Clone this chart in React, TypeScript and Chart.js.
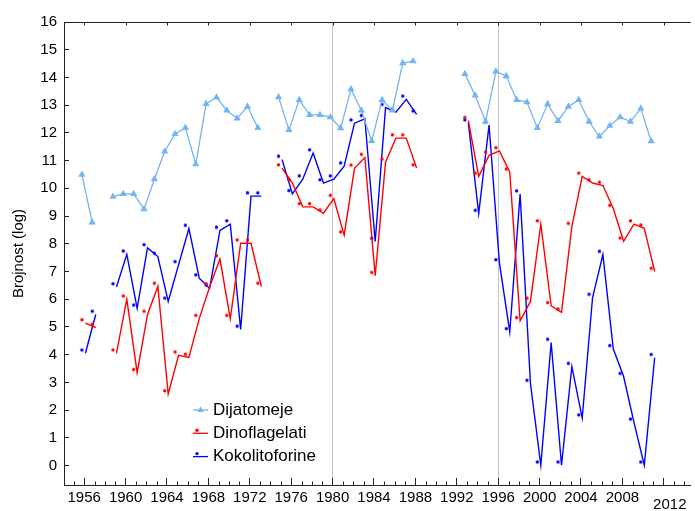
import React, { useEffect, useRef } from 'react';
import { Chart, registerables } from 'chart.js';

Chart.register(...registerables);

const YEARS = [
  1956, 1957, 1958, 1959, 1960, 1961, 1962, 1963, 1964, 1965, 1966, 1967, 1968, 1969,
  1970, 1971, 1972, 1973, 1974, 1975, 1976, 1977, 1978, 1979, 1980, 1981, 1982, 1983,
  1984, 1985, 1986, 1987, 1988, 1989, 1990, 1991, 1992, 1993, 1994, 1995, 1996, 1997,
  1998, 1999, 2000, 2001, 2002, 2003, 2004, 2005, 2006, 2007, 2008, 2009, 2010, 2011,
];

const DIJATOMEJE = [
  10.49, 8.77, null, 9.7, 9.8, 9.8, 9.25, 10.33, 11.33, 11.96, 12.19, 10.87, 13.05, 13.28,
  12.81, 12.52, 12.95, 12.18, null, 13.29, 12.11, 13.19, 12.65, 12.65, 12.57, 12.17, 13.58, 12.81,
  11.71, 13.19, 12.81, 14.52, 14.59, null, null, null, null, 14.13, 13.35, 12.41, 14.22, 14.05,
  13.19, 13.11, 12.18, 13.04, 12.43, 12.95, 13.19, 12.41, 11.87, 12.26, 12.57, 12.41, 12.88, 11.7,
];

const DINOFLAGELATI = [
  5.26, 5.1, null, 4.17, 6.12, 3.47, 5.57, 6.58, 2.7, 4.1, 4.02, 5.42, 6.56, 7.57,
  5.42, 8.14, 8.14, 6.58, null, 10.85, 10.31, 9.45, 9.45, 9.22, 9.75, 8.43, 10.84, 11.23,
  6.97, 11.06, 11.93, 11.93, 10.85, null, null, null, null, 12.56, 10.55, 11.31, 11.47, 10.7,
  5.34, 6.04, 8.83, 5.88, 5.65, 8.74, 10.55, 10.31, 10.22, 9.39, 8.21, 8.83, 8.68, 7.12,
];

const KOKOLITOFORINE = [
  4.17, 5.57, null, 6.56, 7.74, 5.79, 7.97, 7.66, 6.04, 7.36, 8.67, 6.88, 6.51, 8.6,
  8.83, 5.03, 9.84, 9.84, null, 11.16, 9.92, 10.45, 11.39, 10.31, 10.45, 10.92, 12.47, 12.63,
  8.2, 13.03, 12.87, 13.33, 12.79, null, null, null, null, 12.47, 9.21, 12.4, 7.43, 4.94,
  9.91, 3.08, 0.13, 4.56, 0.13, 3.69, 1.83, 6.18, 7.73, 4.33, 3.33, 1.68, 0.13, 4.01,
];

const SERIES_NAMES = ['Dijatomeje', 'Dinoflagelati', 'Kokolitoforine'];
const SERIES_COLORS = ['#74B4F2', '#FF0000', '#0000FF'];

const X_TICK_LABELS = [1956, 1960, 1964, 1968, 1972, 1976, 1980, 1984, 1988, 1992, 1996, 2000, 2004, 2008, 2012];
const X_REF_LINES = [1980, 1996];
const Y_TICKS = [0, 1, 2, 3, 4, 5, 6, 7, 8, 9, 10, 11, 12, 13, 14, 15, 16];
const Y_TITLE = 'Brojnost (log)';

// styling constants
const TICK_OFFSET = 0.22;
const LINE_SHIFT_X = 3.5;
const LINE_SHIFT_Y = 3.3;
const FONT = "'Liberation Sans', Arial, sans-serif";
const AXIS_COLOR = '#222';

function dotImage(color: string) {
  const c = document.createElement('canvas');
  c.width = 16;
  c.height = 16;
  const g = c.getContext('2d')!;
  g.fillStyle = color;
  g.beginPath();
  g.arc(8 - LINE_SHIFT_X, 8 - LINE_SHIFT_Y, 1.7, 0, Math.PI * 2);
  g.fill();
  return c;
}

const shiftPlugin = {
  id: 'shiftLines',
  beforeDatasetDraw(chart: any, args: any) {
    if (args.index > 0) {
      chart.ctx.save();
      chart.ctx.translate(LINE_SHIFT_X, LINE_SHIFT_Y);
    }
  },
  afterDatasetDraw(chart: any, args: any) {
    if (args.index > 0) chart.ctx.restore();
  },
};

const extrasPlugin = {
  id: 'extras',
  afterDraw(chart: any) {
    const { ctx, chartArea } = chart;
    const xs = chart.scales.x;
    const { left, right, top, bottom } = chartArea;
    ctx.save();
    ctx.strokeStyle = AXIS_COLOR;
    ctx.lineWidth = 1;
    // top border
    ctx.beginPath();
    ctx.moveTo(left, top + 0.5);
    ctx.lineTo(right, top + 0.5);
    ctx.stroke();
    // minor ticks (bottom)
    for (let yr = 1954; yr <= 2015; yr++) {
      if (X_TICK_LABELS.includes(yr)) continue;
      const px = Math.round(xs.getPixelForValue(yr + TICK_OFFSET)) + 0.5;
      if (px < left || px > right) continue;
      ctx.beginPath();
      ctx.moveTo(px, bottom);
      ctx.lineTo(px, bottom - 3.5);
      ctx.stroke();
    }
    // top major ticks
    X_TICK_LABELS.forEach((yr) => {
      const px = Math.round(xs.getPixelForValue(yr + TICK_OFFSET)) + 0.5;
      ctx.beginPath();
      ctx.moveTo(px, top);
      ctx.lineTo(px, top + 3.5);
      ctx.stroke();
    });
    // last label, drawn slightly offset like the reference
    const lastYr = X_TICK_LABELS[X_TICK_LABELS.length - 1];
    ctx.fillStyle = '#000';
    ctx.font = `15px ${FONT}`;
    ctx.textAlign = 'center';
    ctx.textBaseline = 'middle';
    ctx.fillText(String(lastYr), xs.getPixelForValue(lastYr + TICK_OFFSET) + 6, bottom + 20);

    // legend
    const lx = left + 129;
    const ly = top + 388;
    const rowH = 23.3;
    chart.data.datasets.forEach((ds: any, i: number) => {
      const y = ly + i * rowH;
      ctx.strokeStyle = ds.borderColor;
      ctx.lineWidth = 1.3;
      ctx.beginPath();
      ctx.moveTo(lx, y);
      ctx.lineTo(lx + 15, y);
      ctx.stroke();
      ctx.fillStyle = ds.borderColor;
      if (i === 0) {
        const cx = lx + 7.5;
        const r = 3.5;
        ctx.beginPath();
        ctx.moveTo(cx, y - r);
        ctx.lineTo(cx + r * 0.9, y + r * 0.6);
        ctx.lineTo(cx - r * 0.9, y + r * 0.6);
        ctx.closePath();
        ctx.fill();
      } else {
        ctx.beginPath();
        ctx.arc(lx + 4, y - 3, 1.7, 0, Math.PI * 2);
        ctx.fill();
      }
      ctx.fillStyle = '#000';
      ctx.font = `17px ${FONT}`;
      ctx.textAlign = 'left';
      ctx.textBaseline = 'middle';
      ctx.fillText(ds.label, lx + 20, y);
    });
    ctx.restore();
  },
};

export default function App() {
  const ref = useRef<HTMLCanvasElement | null>(null);

  useEffect(() => {
    if (!ref.current) return;
    Chart.defaults.font.family = FONT;
    const seriesValues = [DIJATOMEJE, DINOFLAGELATI, KOKOLITOFORINE];
    const datasets = seriesValues.map((vals, i) => ({
      label: SERIES_NAMES[i],
      data: YEARS.map((yr, j) => ({ x: yr, y: vals[j] })),
      borderColor: SERIES_COLORS[i],
      backgroundColor: SERIES_COLORS[i],
      borderWidth: i === 0 ? 1.3 : 1.4,
      pointStyle: i === 0 ? 'triangle' : dotImage(SERIES_COLORS[i]),
      pointRadius: i === 0 ? 4.2 : 3,
      pointBorderWidth: 0,
      spanGaps: false,
      tension: 0,
    }));

    const chart = new Chart(ref.current, {
      type: 'line',
      data: { datasets } as any,
      options: {
        animation: false,
        responsive: true,
        maintainAspectRatio: false,
        layout: { padding: { top: 22, right: 0, left: 0, bottom: 0 } },
        plugins: { legend: { display: false }, tooltip: { enabled: false } },
        scales: {
          x: {
            type: 'linear',
            min: 1954.27,
            max: 2014.83,
            afterBuildTicks: (s: any) => {
              s.ticks = X_TICK_LABELS.map((v) => ({ value: v + TICK_OFFSET }));
            },
            afterFit: (s: any) => {
              s.height = 26;
            },
            ticks: {
              autoSkip: false,
              maxRotation: 0,
              padding: 11,
              color: '#000',
              font: { size: 15 },
              callback: (v: any) => {
                const yr = Math.round(Number(v) - TICK_OFFSET);
                return yr === X_TICK_LABELS[X_TICK_LABELS.length - 1] ? '' : String(yr);
              },
            },
            grid: {
              drawOnChartArea: true,
              color: (c: any) => {
                const yr = Math.round((c.tick ? c.tick.value : 0) - TICK_OFFSET);
                return X_REF_LINES.includes(yr) ? '#c4c4c4' : 'rgba(0,0,0,0)';
              },
              tickColor: AXIS_COLOR,
              tickLength: -7,
            },
            border: { color: AXIS_COLOR, width: 1 },
          },
          y: {
            type: 'linear',
            min: -0.7,
            max: 16,
            afterBuildTicks: (s: any) => {
              s.ticks = Y_TICKS.map((v) => ({ value: v }));
            },
            afterFit: (s: any) => {
              s.width = 64;
            },
            ticks: {
              padding: 12,
              color: '#000',
              font: { size: 15 },
              callback: (v: any) => String(v),
            },
            grid: {
              drawOnChartArea: false,
              tickColor: AXIS_COLOR,
              tickLength: -5,
            },
            border: { color: AXIS_COLOR, width: 1 },
            title: {
              display: true,
              text: Y_TITLE,
              color: '#000',
              font: { size: 15 },
              padding: { top: 10, bottom: 0 },
            },
          },
        },
      } as any,
      plugins: [shiftPlugin, extrasPlugin],
    });
    return () => chart.destroy();
  }, []);

  return (
    <div style={{ position: 'fixed', left: 0, top: 0, width: 695, height: 511, background: '#fff' }}>
      <canvas ref={ref} />
    </div>
  );
}
